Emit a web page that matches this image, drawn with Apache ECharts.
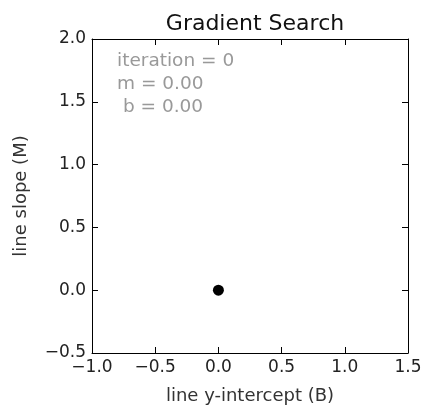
<!DOCTYPE html>
<html>
<head>
<meta charset="utf-8">
<script src="https://cdn.jsdelivr.net/npm/echarts@6/dist/echarts.min.js"></script>
<style>html,body{margin:0;padding:0;background:#fff}#c{width:425px;height:410px}</style>
</head>
<body>
<div id="c"></div>
<script>
const titleText = "Gradient Search";
const xName = "line y-intercept (B)";
const yName = "line slope (M)";
const xRange = [-1.0, 1.5];
const yRange = [-0.5, 2.0];
const tickStep = 0.5;
const bValues = [0.0];
const mValues = [0.0];
const iteration = 0;
const annotationLines = ["iteration = " + iteration, "m = " + mValues[0].toFixed(2), " b = " + bValues[0].toFixed(2)];

const FONT = "DejaVu Sans";
const fmt = v => { const s = Math.abs(v).toFixed(1); return (v < 0 ? "\u2212" : "") + s; };
const chart = echarts.init(document.getElementById('c'), null, {renderer: 'canvas'});
const L = 92, R = 408, T = 39, B = 355;
const axisCommon = {
  type: 'value', interval: tickStep,
  axisLine: {show: true, onZero: false, lineStyle: {color: '#000', width: 1}},
  axisTick: {show: true, inside: true, length: 6, lineStyle: {color: '#000', width: 1}},
  splitLine: {show: false}
};
chart.setOption({
  animation: false,
  backgroundColor: '#fff',
  title: {text: titleText, left: (L + R) / 2, top: 8, textAlign: 'center',
    textStyle: {fontFamily: FONT, fontSize: 22, fontWeight: 'normal', color: '#111'}},
  grid: {left: L, right: 425 - R, top: T, bottom: 410 - B},
  xAxis: [
    Object.assign({}, axisCommon, {position: 'bottom', min: xRange[0], max: xRange[1],
      name: xName, nameLocation: 'middle', nameGap: 34,
      nameTextStyle: {fontFamily: FONT, fontSize: 18, color: '#333'},
      axisLabel: {formatter: fmt, margin: 6, fontFamily: FONT, fontSize: 17, color: '#222'}}),
    Object.assign({}, axisCommon, {position: 'top', min: xRange[0], max: xRange[1], axisLabel: {show: false}})
  ],
  yAxis: [
    Object.assign({}, axisCommon, {position: 'left', min: yRange[0], max: yRange[1],
      name: yName, nameLocation: 'middle', nameGap: 62,
      nameTextStyle: {fontFamily: FONT, fontSize: 18, color: '#333'},
      axisLabel: {formatter: fmt, margin: 6, fontFamily: FONT, fontSize: 17, color: '#222'}}),
    Object.assign({}, axisCommon, {position: 'right', min: yRange[0], max: yRange[1], axisLabel: {show: false}})
  ],
  graphic: annotationLines.map((t, i) => ({
    type: 'text', left: 117, top: 52 + i * 23,
    style: {text: t, fontFamily: FONT, fontSize: 18.5, fill: '#999'}
  })),
  series: [{
    type: 'scatter', xAxisIndex: 0, yAxisIndex: 0,
    data: bValues.map((b, i) => [b, mValues[i]]),
    symbol: 'circle', symbolSize: 11,
    itemStyle: {color: '#000', opacity: 1}
  }]
});
</script>
</body>
</html>
